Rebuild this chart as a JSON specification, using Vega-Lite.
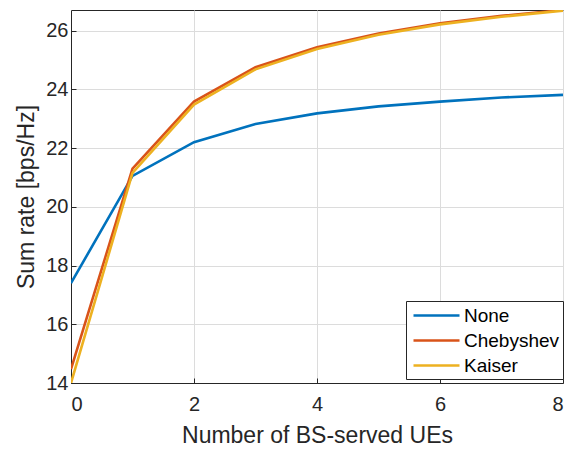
{
  "$schema": "https://vega.github.io/schema/vega-lite/v6.json",
  "width": 492,
  "height": 373,
  "autosize": {"type": "none"},
  "padding": {"left": 71, "top": 10, "right": 4, "bottom": 69},
  "background": "white",
  "config": {
    "font": "Liberation Sans",
    "view": {"stroke": "#262626", "strokeWidth": 1},
    "axis": {
      "domainColor": "#262626",
      "tickColor": "#262626",
      "labelColor": "#262626",
      "titleColor": "#262626",
      "labelFontSize": 20,
      "titleFontSize": 23,
      "titleFontWeight": "normal",
      "gridColor": "#dcdcdc",
      "gridWidth": 1,
      "tickSize": -5,
      "labelPadding": 8
    }
  },
  "data": {
    "values": [
      {"ues": 0, "rate": 17.4, "filter": "None"},
      {"ues": 1, "rate": 21.05, "filter": "None"},
      {"ues": 2, "rate": 22.2, "filter": "None"},
      {"ues": 3, "rate": 22.82, "filter": "None"},
      {"ues": 4, "rate": 23.18, "filter": "None"},
      {"ues": 5, "rate": 23.42, "filter": "None"},
      {"ues": 6, "rate": 23.58, "filter": "None"},
      {"ues": 7, "rate": 23.72, "filter": "None"},
      {"ues": 8, "rate": 23.81, "filter": "None"},
      {"ues": 0, "rate": 14.47, "filter": "Chebyshev"},
      {"ues": 1, "rate": 21.3, "filter": "Chebyshev"},
      {"ues": 2, "rate": 23.58, "filter": "Chebyshev"},
      {"ues": 3, "rate": 24.75, "filter": "Chebyshev"},
      {"ues": 4, "rate": 25.43, "filter": "Chebyshev"},
      {"ues": 5, "rate": 25.9, "filter": "Chebyshev"},
      {"ues": 6, "rate": 26.25, "filter": "Chebyshev"},
      {"ues": 7, "rate": 26.5, "filter": "Chebyshev"},
      {"ues": 8, "rate": 26.7, "filter": "Chebyshev"},
      {"ues": 0, "rate": 14.0, "filter": "Kaiser"},
      {"ues": 1, "rate": 21.15, "filter": "Kaiser"},
      {"ues": 2, "rate": 23.48, "filter": "Kaiser"},
      {"ues": 3, "rate": 24.68, "filter": "Kaiser"},
      {"ues": 4, "rate": 25.37, "filter": "Kaiser"},
      {"ues": 5, "rate": 25.86, "filter": "Kaiser"},
      {"ues": 6, "rate": 26.21, "filter": "Kaiser"},
      {"ues": 7, "rate": 26.47, "filter": "Kaiser"},
      {"ues": 8, "rate": 26.68, "filter": "Kaiser"}
    ]
  },
  "mark": {"type": "line", "strokeWidth": 2.6, "clip": true},
  "encoding": {
    "x": {
      "field": "ues",
      "type": "quantitative",
      "scale": {"domain": [0, 8], "nice": false, "zero": false},
      "axis": {"values": [0, 2, 4, 6, 8], "title": "Number of BS-served UEs", "labelPadding": 16, "titlePadding": 10}
    },
    "y": {
      "field": "rate",
      "type": "quantitative",
      "scale": {"domain": [14, 26.7], "nice": false, "zero": false},
      "axis": {"values": [14, 16, 18, 20, 22, 24, 26], "title": "Sum rate [bps/Hz]", "titlePadding": 7}
    },
    "color": {
      "field": "filter",
      "type": "nominal",
      "scale": {"domain": ["None", "Chebyshev", "Kaiser"], "range": ["#0072BD", "#D95319", "#EDB120"]},
      "legend": {
        "title": null,
        "orient": "none",
        "legendX": 335,
        "legendY": 291,
        "symbolType": "M-2.3,0H2.3",
        "symbolSize": 400,
        "symbolStrokeWidth": 2.6,
        "symbolOffset": 16,
        "labelFontSize": 19,
        "labelOffset": 16,
        "labelColor": "#000000",
        "rowPadding": 3,
        "padding": 3,
        "strokeColor": "#262626",
        "fillColor": "white"
      }
    }
  }
}
